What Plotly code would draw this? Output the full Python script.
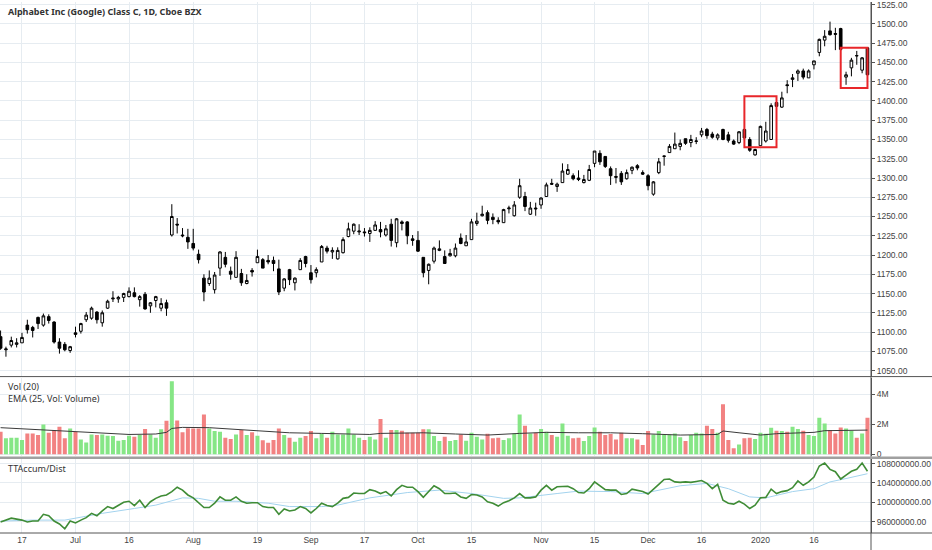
import plotly.graph_objects as go

# trading sessions shown on the chart (month, day numbers)
sessions = [
    ('2019-06', [11, 12, 13, 14, 17, 18, 19, 20, 21, 24, 25, 26, 27, 28]),
    ('2019-07', [1, 2, 3, 5, 8, 9, 10, 11, 12, 15, 16, 17, 18, 19, 22, 23, 24, 25, 26, 29, 30, 31]),
    ('2019-08', [1, 2, 5, 6, 7, 8, 9, 12, 13, 14, 15, 16, 19, 20, 21, 22, 23, 26, 27, 28, 29, 30]),
    ('2019-09', [3, 4, 5, 6, 9, 10, 11, 12, 13, 16, 17, 18, 19, 20, 23, 24, 25, 26, 27, 30]),
    ('2019-10', [1, 2, 3, 4, 7, 8, 9, 10, 11, 14, 15, 16, 17, 18, 21, 22, 23, 24, 25, 28, 29, 30, 31]),
    ('2019-11', [1, 4, 5, 6, 7, 8, 11, 12, 13, 14, 15, 18, 19, 20, 21, 22, 25, 26, 27, 29]),
    ('2019-12', [2, 3, 4, 5, 6, 9, 10, 11, 12, 13, 16, 17, 18, 19, 20, 23, 24, 26, 27, 30, 31]),
    ('2020-01', [2, 3, 6, 7, 8, 9, 10, 13, 14, 15, 16, 17, 21, 22, 23, 24, 27, 28, 29, 30, 31]),
]
dates = [f'{m}-{d:02d}' for m, days in sessions for d in days]

opens = [1094, 1077, 1083, 1084, 1086, 1109, 1106, 1119, 1109, 1120,
         1113, 1087, 1084, 1076, 1099, 1101, 1116, 1118, 1126, 1112,
         1131, 1143, 1143, 1145, 1146, 1151, 1142, 1149, 1134, 1141,
         1131, 1138, 1226, 1240, 1226, 1223, 1215, 1201, 1170, 1163,
         1155, 1183, 1197, 1179, 1171, 1176, 1163, 1180, 1190, 1194,
         1193, 1193, 1182, 1157, 1181, 1164, 1181, 1198, 1177, 1177,
         1191, 1209, 1204, 1195, 1203, 1224, 1231, 1230, 1230, 1228,
         1232, 1233, 1226, 1240, 1216, 1243, 1243, 1221, 1219, 1197,
         1180, 1192, 1206, 1198, 1199, 1199, 1222, 1212, 1220, 1241,
         1251, 1255, 1249, 1245, 1242, 1260, 1251, 1275, 1276, 1253,
         1261, 1265, 1276, 1293, 1289, 1294, 1305, 1303, 1300, 1294,
         1297, 1319, 1332, 1328, 1312, 1302, 1306, 1299, 1310, 1316,
         1307, 1303, 1279, 1307, 1328, 1333, 1338, 1341, 1351, 1346,
         1347.5, 1356, 1363, 1357, 1352, 1363, 1356, 1348, 1346, 1363,
         1350, 1330, 1342, 1348, 1350, 1398, 1392, 1421, 1428, 1436,
         1439, 1430, 1447, 1463, 1479, 1491, 1487.6, 1494, 1431, 1443,
         1459, 1440, 1469]
highs = [1102, 1081, 1094, 1092, 1099, 1116, 1108, 1120, 1124, 1123,
         1114, 1092, 1087, 1082, 1107, 1112, 1126, 1133, 1127, 1128,
         1142, 1153, 1147, 1151, 1158, 1158, 1148, 1152, 1139, 1147,
         1144, 1142, 1266, 1248, 1235, 1234, 1234, 1207, 1175, 1180,
         1178, 1205, 1204, 1185, 1205, 1182, 1175, 1183, 1207, 1196,
         1200, 1198, 1194, 1170, 1182, 1171, 1196, 1199, 1187, 1184,
         1213, 1212, 1210, 1210, 1223, 1242, 1241, 1240, 1235, 1236,
         1244, 1243, 1239, 1247, 1248, 1245, 1244, 1226, 1231, 1197,
         1189, 1211, 1219, 1206, 1208, 1215, 1228, 1226, 1247, 1255,
         1264, 1258, 1254, 1249, 1260, 1264, 1270, 1299, 1282, 1269,
         1268, 1275, 1294, 1299, 1294, 1319, 1318, 1306, 1310, 1304,
         1317, 1335, 1336, 1328, 1315, 1313, 1309, 1311, 1315, 1318,
         1310, 1305, 1296, 1326, 1329, 1344, 1359, 1350, 1351, 1356,
         1353, 1365, 1365, 1360, 1358, 1364, 1360, 1350, 1361, 1365,
         1353, 1338, 1368, 1373, 1397, 1403, 1412, 1427, 1435, 1441,
         1442, 1441, 1452, 1481, 1492, 1503, 1495, 1495, 1438, 1456,
         1465, 1457, 1470]
lows = [1077, 1068, 1080, 1080, 1086, 1098, 1093, 1104, 1107, 1111,
        1085, 1072, 1075, 1073, 1093, 1098, 1113, 1116, 1111, 1107,
        1130, 1139, 1138, 1139, 1145, 1145, 1133, 1129, 1125, 1132,
        1127, 1121, 1224, 1228, 1223, 1208, 1206, 1189, 1140, 1160,
        1150, 1173, 1184, 1168, 1171, 1160, 1162, 1172, 1190, 1183,
        1188, 1179, 1148, 1153, 1161, 1154, 1181, 1184, 1163, 1171,
        1191, 1202, 1195, 1194, 1202, 1223, 1227, 1226, 1224, 1217,
        1232, 1223, 1224, 1211, 1210, 1232, 1214, 1212, 1204, 1171,
        1162, 1189, 1205, 1189, 1198, 1197, 1214, 1212, 1220, 1238,
        1250, 1240, 1240, 1240, 1242, 1254, 1250, 1273, 1257, 1252,
        1251, 1260, 1276, 1291, 1282, 1294, 1304, 1297, 1296, 1293,
        1296, 1314, 1317, 1313, 1291, 1293, 1291, 1298, 1305, 1310,
        1304, 1284, 1277, 1305, 1316, 1333, 1338, 1336, 1343, 1340,
        1344, 1353, 1351, 1351, 1349, 1349, 1346, 1343, 1344, 1349,
        1334, 1329, 1342, 1346, 1350, 1390, 1391, 1410, 1418, 1426,
        1428, 1430, 1441, 1458, 1471, 1485, 1466, 1465, 1421, 1432,
        1447, 1436, 1429]
closes = [1079, 1078, 1089, 1086, 1093, 1103, 1102, 1111, 1121, 1115,
          1087, 1079, 1077, 1081, 1097, 1111, 1122, 1131, 1116, 1125,
          1140, 1144, 1145, 1150, 1153, 1146, 1146, 1130, 1138, 1146,
          1137, 1131, 1250, 1239, 1225, 1217, 1209, 1194, 1152, 1170,
          1174, 1204, 1188, 1175, 1197, 1164, 1167, 1178, 1198, 1183,
          1191, 1189, 1152, 1169, 1168, 1170, 1193, 1189, 1168, 1181,
          1211, 1205, 1206, 1206, 1220, 1234, 1240, 1231, 1229, 1232,
          1239, 1230, 1234, 1219, 1247, 1241, 1225, 1219, 1205, 1177,
          1188, 1209, 1208, 1189, 1202, 1209, 1215, 1217, 1243, 1244,
          1253, 1245, 1246, 1243, 1259, 1261, 1265, 1290, 1263, 1261,
          1260, 1274, 1291, 1292, 1292, 1309, 1311, 1299, 1298, 1298,
          1311, 1335, 1321, 1315, 1303, 1301, 1295, 1307, 1314, 1313,
          1305, 1290, 1295, 1321, 1328.5, 1341, 1344, 1345, 1345, 1350,
          1348, 1361, 1355, 1353, 1356, 1350, 1349, 1344, 1360, 1352,
          1336, 1337, 1367, 1361, 1394, 1393, 1404, 1420, 1430, 1439,
          1431, 1439, 1452, 1480, 1484, 1486, 1486.6, 1467, 1434, 1453,
          1458.6, 1456, 1434]

# volume, millions
volume = [1.50, 1.06, 1.10, 1.10, 0.95, 1.39, 1.39, 1.28, 1.99, 1.43,
          1.61, 1.83, 1.06, 1.72, 1.50, 0.99, 0.79, 1.32, 1.28, 1.32,
          1.24, 1.21, 0.91, 0.95, 1.24, 1.17, 1.28, 1.68, 1.32, 1.10,
          1.66, 2.23, 4.86, 2.25, 1.46, 1.74, 1.72, 1.72, 2.65, 1.72,
          1.55, 1.50, 1.10, 1.02, 1.32, 1.61, 1.28, 1.46, 1.24, 0.93,
          0.77, 0.95, 1.72, 1.28,
          1.10, 0.84, 1.10, 1.21, 1.55, 1.06, 1.39, 1.10, 1.50, 1.32,
          1.32, 1.72, 1.32, 1.10, 0.95, 1.17, 0.99, 2.34, 1.10, 1.61,
          1.61, 1.57, 1.43, 1.43, 1.43, 1.66, 1.66, 1.21, 0.88, 1.17,
          0.88, 0.95, 1.32, 0.91, 1.43, 1.17, 0.99, 1.37, 1.06, 1.10,
          0.95, 1.06, 1.39, 2.65, 1.90, 1.39, 1.43, 1.68, 1.50, 1.28,
          1.17, 2.05, 1.24, 1.06,
          1.10, 0.88, 1.21, 1.79, 1.50, 1.28, 1.35, 0.99, 1.43, 1.06,
          1.06, 0.99, 0.62, 1.55, 1.32, 1.55, 1.32, 1.32, 1.39, 1.13,
          0.88, 1.28, 1.43, 1.39, 1.90, 1.68, 1.43, 3.33, 0.95, 0.40,
          0.66, 1.06, 1.10, 1.02, 1.43, 1.37, 1.77, 1.57, 1.55, 1.50,
          1.83, 1.68, 1.57, 1.28, 1.21, 2.43, 2.05, 1.61, 1.39, 1.79,
          1.72, 1.57, 1.10, 1.39, 2.43]

# EMA(25) of volume, read at some sessions
ema_idx = [0, 9, 15, 19, 24, 29, 31, 32, 34, 39, 44, 50, 54, 60, 69, 71, 79,
           85, 91, 97, 102, 108, 114, 120, 127, 134, 135, 138, 142, 145, 152, 154, 162]
ema_vol = [1.77, 1.61, 1.50, 1.43, 1.32, 1.35, 1.46, 1.72, 1.79, 1.77, 1.66, 1.55,
           1.43, 1.39, 1.32, 1.39, 1.43, 1.35, 1.28, 1.39, 1.46, 1.43, 1.43, 1.37,
           1.28, 1.32, 1.55, 1.43, 1.28, 1.37, 1.46, 1.57, 1.61]

# TTAccum/Dist, millions
accum = [95.9, 96.3, 96.7, 96.5, 96.3, 95.9, 96.1, 96.1, 97.5, 97.2,
         96.1, 95.5, 94.5, 96.1, 95.7, 96.3, 96.8, 97.7, 97.2, 98.2,
         99.1, 98.7, 99.3, 100.0, 100.2, 99.3, 100.4, 98.9, 100.1, 100.8,
         101.3, 101.5, 102.2, 103.1, 102.5, 101.5, 100.9, 99.9, 98.9, 98.9,
         99.8, 101.1, 100.4, 100.4, 101.1, 100.2, 99.8, 99.9, 99.9, 99.1,
         98.9, 98.9, 97.5, 98.6,
         98.2, 98.4, 99.1, 98.7, 97.8, 98.7, 99.8, 99.3, 99.1, 99.8,
         100.8, 101.0, 101.9, 101.8, 101.8, 102.6, 102.3, 101.8, 102.2, 101.3,
         102.6, 103.5, 103.1, 103.1, 102.2, 101.0, 102.2, 103.4, 102.8, 101.8,
         101.8, 101.9, 101.1, 100.8, 101.6, 101.5, 101.1, 100.1, 99.8, 99.2,
         99.9, 100.3, 100.9, 101.8, 100.9, 100.9, 101.1, 102.5, 103.5, 102.5,
         103.2, 103.3, 103.3, 102.8,
         102.0, 101.9, 102.8, 104.2, 103.4, 102.6, 102.5, 102.5, 101.6, 101.8,
         102.7, 102.5, 102.2, 101.7, 102.6, 103.7, 104.7, 104.8, 104.2, 104.1,
         104.2, 104.1, 104.3, 104.5, 103.9, 102.8, 103.7, 100.4, 99.8, 99.6,
         100.2, 99.6, 98.7, 99.4, 100.9, 101.0, 102.7, 101.8, 102.2, 102.4,
         103.0, 104.4, 103.5, 104.2, 105.2, 107.5, 108.1, 106.8, 106.3, 104.8,
         105.6, 106.4, 106.8, 108.1, 106.4]

# signal line of the accum/dist, read at some sessions
sig_idx = [0, 6, 12, 19, 25, 29, 34, 37, 40, 44, 50, 54, 60, 63, 69, 76, 82,
           88, 94, 97, 104, 108, 114, 120, 127, 132, 136, 140, 143, 148, 152, 155, 158, 162]
sig_val = [96.1, 96.3, 96.3, 97.7, 98.7, 99.4, 100.9, 100.8, 100.2, 100.2, 99.8, 99.1,
           99.1, 99.4, 100.9, 102.0, 102.5, 101.8, 100.8, 100.9, 101.8, 102.3, 102.2,
           101.8, 103.4, 103.9, 102.8, 101.1, 100.9, 102.2, 102.8, 104.2, 104.9, 105.9]

# red boxes drawn on the price pane
box_start = ['2019-12-27', '2020-01-24']
box_end = ['2020-01-07', '2020-01-31']
box_low = [1340, 1417]
box_high = [1406, 1469]

tick_dates = ['2019-06-17', '2019-07-01', '2019-07-16', '2019-08-01', '2019-08-19',
              '2019-09-03', '2019-09-17', '2019-10-01', '2019-10-15', '2019-11-01',
              '2019-11-15', '2019-12-02', '2019-12-16', '2020-01-02', '2020-01-16']
tick_text = ['17', 'Jul', '16', 'Aug', '19', 'Sep', '17', 'Oct', '15', 'Nov',
             '15', 'Dec', '16', '2020', '16']

price_ticks = list(range(1050, 1526, 25))
accum_ticks = [96, 100, 104, 108]

FONT = 'Noto Sans'
TICKFONT = dict(family='Liberation Sans', size=8.5, color='#444444')
GRID = '#e6ecf1'
AXIS = '#555555'
PLOT_H = 533  # plot area height in px (figure height minus bottom margin)
RIGHT = 932 / 871  # paper x of the figure's right edge

vol_colors = ['#86e686' if c >= o else '#f28282' for o, c in zip(opens, closes)]

fig = go.Figure()
fig.add_trace(go.Candlestick(
    x=dates, open=opens, high=highs, low=lows, close=closes,
    increasing=dict(line=dict(color='#000000', width=1), fillcolor='#ffffff'),
    decreasing=dict(line=dict(color='#000000', width=1), fillcolor='#000000'),
    whiskerwidth=0, showlegend=False, xaxis='x', yaxis='y'))
fig.add_trace(go.Bar(x=dates, y=volume, marker=dict(color=vol_colors, line=dict(width=0)),
                     showlegend=False, xaxis='x2', yaxis='y2'))
fig.add_trace(go.Scatter(x=[dates[i] for i in ema_idx], y=ema_vol, mode='lines',
                         line=dict(color='#3a3a3a', width=1), showlegend=False,
                         xaxis='x2', yaxis='y2'))
fig.add_trace(go.Scatter(x=[dates[i] for i in sig_idx], y=sig_val, mode='lines',
                         line=dict(color='#a3d3ee', width=1), showlegend=False,
                         xaxis='x3', yaxis='y3'))
fig.add_trace(go.Scatter(x=dates, y=accum, mode='lines',
                         line=dict(color='#3f8c36', width=1.6), showlegend=False,
                         xaxis='x3', yaxis='y3'))

xcommon = dict(type='category', categoryorder='array', categoryarray=dates,
               range=[-0.11, 162.66], tickvals=tick_dates, ticktext=tick_text,
               showgrid=True, gridcolor=GRID, gridwidth=1, zeroline=False,
               ticks='', showline=False, fixedrange=True)
ycommon = dict(side='right', showgrid=True, gridcolor=GRID, zeroline=False,
               ticks='outside', ticklen=3, tickcolor=AXIS, showline=True,
               linecolor=AXIS, linewidth=1, tickfont=TICKFONT, ticklabeloverflow='allow')

shapes = []
for s, e, lo, hi in zip(box_start, box_end, box_low, box_high):
    shapes.append(dict(type='rect', xref='x', yref='y', x0=dates.index(s), x1=dates.index(e),
                       y0=lo, y1=hi, line=dict(color='#e8262a', width=2)))
# right axis line and pane separators across the full width
shapes.append(dict(type='line', xref='paper', yref='paper', x0=1, x1=1, y0=-0.035, y1=1,
                   line=dict(color=AXIS, width=1)))
for ypx, col, w in [(376, AXIS, 1), (457.5, '#a0a0a0', 2.5), (533, AXIS, 1)]:
    shapes.append(dict(type='line', xref='paper', yref='paper', x0=0, x1=RIGHT,
                       y0=1 - ypx / PLOT_H, y1=1 - ypx / PLOT_H, line=dict(color=col, width=w)))


def label(text, ypx, bold=False):
    return dict(text=f'<b>{text}</b>' if bold else text, x=6 / 871, y=1 - ypx / PLOT_H,
                xref='paper', yref='paper', xanchor='left', yanchor='middle',
                showarrow=False, font=dict(family=FONT, size=9, color='#333333'))


fig.update_layout(
    width=932, height=550,
    margin=dict(l=0, r=61, t=0, b=17),
    paper_bgcolor='white', plot_bgcolor='white',
    bargap=0.25,
    font=dict(family=FONT, size=9, color='#333333'),
    xaxis=dict(xcommon, anchor='y', showticklabels=False, rangeslider=dict(visible=False)),
    xaxis2=dict(xcommon, anchor='y2', matches='x', showticklabels=False),
    xaxis3=dict(xcommon, anchor='y3', matches='x', showticklabels=True, tickfont=TICKFONT),
    yaxis=dict(ycommon, domain=[0.2946, 1.0], anchor='x', range=[1042.2, 1528.5],
               tickvals=price_ticks, tickformat='.2f'),
    yaxis2=dict(ycommon, domain=[0.1445, 0.2927], anchor='x2', range=[-0.13, 5.1],
                tickvals=[0, 2, 4], ticktext=['0', '2M', '4M']),
    yaxis3=dict(ycommon, domain=[0.0, 0.1407], anchor='x3', range=[93.63, 109.09],
                tickvals=accum_ticks, ticktext=[f'{v * 1000000:.2f}' for v in accum_ticks]),
    shapes=shapes,
    annotations=[
        label('Alphabet Inc (Google) Class C, 1D, Cboe BZX', 10, bold=True),
        label('Vol (20)', 386),
        label('EMA (25, Vol: Volume)', 398),
        label('TTAccum/Dist', 468),
    ],
)

fig.write_html('out.html', config={'displayModeBar': False},
               post_script="document.body.style.margin='0';")
